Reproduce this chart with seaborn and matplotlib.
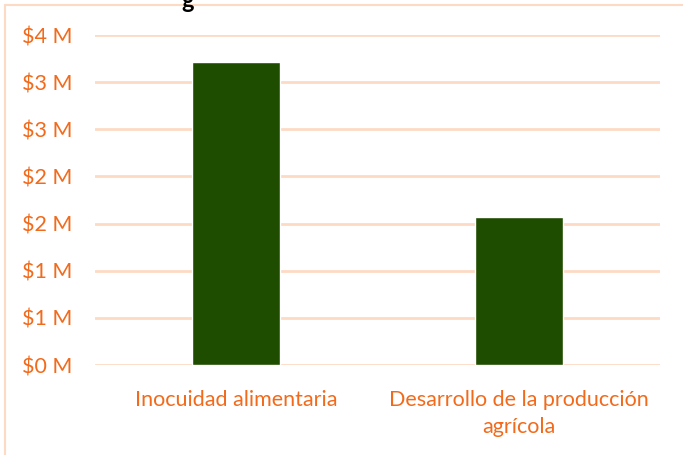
import matplotlib
matplotlib.use("Agg")
import matplotlib.pyplot as plt
import matplotlib.ticker as mticker
import pandas as pd
import seaborn as sns

categories = ["Inocuidad alimentaria", "Desarrollo de la producción\nagrícola"]
values_musd = [3.21, 1.57]
y_ticks = [0, 0.5, 1.0, 1.5, 2.0, 2.5, 3.0, 3.5]

TEXT = "#F26A1B"
GRID = "#FCDAC4"
BAR = "#1E4D00"

df = pd.DataFrame({"categoria": categories, "monto": values_musd})

sns.set_theme(style="white")
plt.rcParams["font.family"] = ["Lato", "DejaVu Sans"]

fig = plt.figure(figsize=(6.83, 4.55), dpi=100)
ax = fig.add_axes([95 / 683, 1 - 365 / 455, 565 / 683, 330 / 455])
sns.barplot(data=df, x="categoria", y="monto", color=BAR, width=0.31, saturation=1, ax=ax, zorder=3)

ax.set_ylim(0, 3.5)
ax.set_yticks(y_ticks)
# Excel-style rounding: half away from zero
ax.yaxis.set_major_formatter(mticker.FuncFormatter(lambda v, _: f"${int(v + 0.5)} M"))
ax.grid(axis="y", color=GRID, linewidth=2, zorder=0)
for s in ax.spines.values():
    s.set_visible(False)
ax.set_xlabel("")
ax.set_ylabel("")
ax.tick_params(axis="both", length=0, labelsize=15.5, colors=TEXT)
ax.tick_params(axis="y", pad=16)
ax.tick_params(axis="x", pad=18)
for lbl in ax.get_xticklabels():
    lbl.set_linespacing(1.45)

# chart frame (cut off on the right and bottom)
fig.add_artist(plt.Line2D([5 / 683, 5 / 683], [0, 1 - 5 / 455], transform=fig.transFigure, color=GRID, lw=1.5))
fig.add_artist(plt.Line2D([5 / 683, 1], [1 - 5 / 455, 1 - 5 / 455], transform=fig.transFigure, color=GRID, lw=1.5))
# title clipped at top edge
fig.text(0.275, 1.0, "g", fontsize=17, fontweight="bold", color="black", ha="center", va="center")

fig.savefig("out.png", dpi=100)
